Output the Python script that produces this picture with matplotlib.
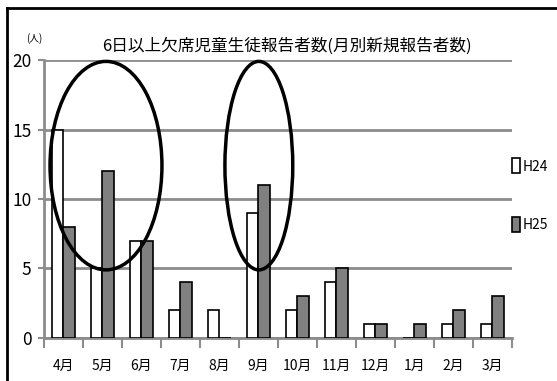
import numpy as np
import matplotlib.pyplot as plt
from matplotlib.patches import Ellipse
from matplotlib.lines import Line2D

plt.rcParams['font.family'] = ['Noto Sans CJK JP', 'DejaVu Sans']

# data
months = ['4月', '5月', '6月', '7月', '8月', '9月', '10月', '11月', '12月', '1月', '2月', '3月']
h24 = [15, 5, 7, 2, 2, 9, 2, 4, 1, 0, 1, 1]
h25 = [8, 12, 7, 4, 0, 11, 3, 5, 1, 1, 2, 3]
series_names = ['H24', 'H25']
title = '6日以上欠席児童生徒報告者数(月別新規報告者数)'

fig = plt.figure(figsize=(5.57, 3.81), dpi=100)
ax = fig.add_axes([0.079, 0.1129, 0.840, 0.7296])

x = np.arange(len(months))
w = 0.3
ax.bar(x - w / 2, h24, w, color='white', edgecolor='black', linewidth=1.2, label=series_names[0], zorder=3)
ax.bar(x + w / 2, h25, w, color='#808080', edgecolor='black', linewidth=1.2, label=series_names[1], zorder=3)

ax.set_xlim(-0.5, len(months) - 0.5)
ax.set_ylim(0, 20)
ax.set_yticks([0, 5, 10, 15, 20])
ax.yaxis.grid(True, color='#8c8c8c', linewidth=2)
ax.set_axisbelow(True)

# month labels sit between the boundary ticks
ax.set_xticks(np.arange(-0.5, len(months)))
ax.set_xticklabels([])
ax.set_xticks(x, minor=True)
ax.set_xticklabels(months, minor=True, fontsize=10)
ax.tick_params(axis='x', which='major', length=7, width=1.5, color='#8c8c8c', direction='out')
ax.tick_params(axis='x', which='minor', length=0, pad=15)
ax.tick_params(axis='y', length=4, width=1.5, color='#8c8c8c', labelsize=12.5, pad=5)

for s in ['top', 'right']:
    ax.spines[s].set_visible(False)
for s in ['left', 'bottom']:
    ax.spines[s].set_color('#8c8c8c')
    ax.spines[s].set_linewidth(2)

# circled regions
ax.add_patch(Ellipse((1.09, 12.4), 2.87, 15.0, fill=False, edgecolor='black', linewidth=2.5, zorder=5, clip_on=False))
ax.add_patch(Ellipse((5.01, 12.4), 1.74, 15.0, fill=False, edgecolor='black', linewidth=2.5, zorder=5, clip_on=False))

fig.text(0.515, 0.88, title, ha='center', va='center', fontsize=12)
fig.text(0.047, 0.9, '(人)', ha='left', va='center', fontsize=7)

fig.legend(loc='center left', bbox_to_anchor=(0.92, 0.488), frameon=False,
           fontsize=10, handlelength=0.55, handleheight=1.3, handletextpad=0.2,
           labelspacing=3.1, borderpad=0, borderaxespad=0)

# outer frame: only left and top edges are visible
fig.add_artist(Line2D([0.013, 0.013], [0.0, 0.979], transform=fig.transFigure, color='black', linewidth=2))
fig.add_artist(Line2D([0.012, 1.0], [0.979, 0.979], transform=fig.transFigure, color='black', linewidth=2))

fig.savefig('out.png', dpi=100)
